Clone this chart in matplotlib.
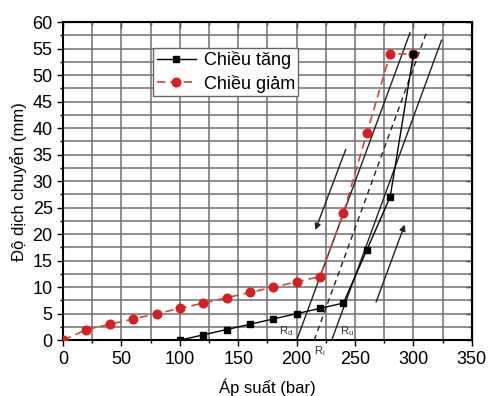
import matplotlib
matplotlib.use('Agg')
import matplotlib.pyplot as plt
from matplotlib.ticker import MultipleLocator

plt.rcParams['font.family'] = ['Liberation Sans', 'DejaVu Sans']
plt.rcParams['mathtext.default'] = 'regular'

# Chiều tăng (tăng áp)
tang_x = [100, 120, 140, 160, 180, 200, 220, 240, 260, 280, 300]
tang_y = [0, 1, 2, 3, 4, 5, 6, 7, 17, 27, 54]

# Chiều giảm (giảm áp)
giam_x = [0, 20, 40, 60, 80, 100, 120, 140, 160, 180, 200, 220, 240, 260, 280, 300]
giam_y = [0, 2, 3, 4, 5, 6, 7, 8, 9, 10, 11, 12, 24, 39, 54, 54]

# Đường Rd, Ri, Ru (điểm đầu, điểm cuối)
rd_line = [(200, 0), (297, 58)]
ri_line = [(215, 0), (311, 58)]
ru_line = [(230, 0), (324, 56.6)]

# Mũi tên chỉ chiều
arrow_down = [(242, 36), (216, 20.8)]
arrow_up = [(268, 7.2), (292.5, 21.8)]

fig = plt.figure(figsize=(4.89, 3.96), dpi=100)
ax = fig.add_axes([0.129, 0.141, 0.836, 0.803])

ax.set_xlim(0, 350)
ax.set_ylim(0, 60)
ax.xaxis.set_major_locator(MultipleLocator(50))
ax.xaxis.set_minor_locator(MultipleLocator(25))
ax.yaxis.set_major_locator(MultipleLocator(5))
ax.yaxis.set_minor_locator(MultipleLocator(2.5))
ax.grid(True, which='both', color='#707070', linewidth=1.1, zorder=0)
ax.set_axisbelow(True)

# các đường tham chiếu
for line, ls in [(rd_line, '-'), (ri_line, (0, (4, 3))), (ru_line, '-')]:
    ax.plot([line[0][0], line[1][0]], [line[0][1], line[1][1]],
            color='#222222', linestyle=ls, linewidth=1.0, zorder=2)

for a in (arrow_down, arrow_up):
    ax.annotate('', xy=a[1], xytext=a[0],
                arrowprops=dict(arrowstyle='-|>', color='#222222', lw=1.0,
                                mutation_scale=9, shrinkA=0, shrinkB=0))

ax.plot(giam_x, giam_y, color='#d0463c', linestyle=(0, (5, 3)), linewidth=1.2,
        marker='o', markersize=6.2, markerfacecolor='#d81e1e',
        markeredgecolor='#d81e1e', label='Chiều giảm', zorder=3)
ax.plot(tang_x, tang_y, color='black', linewidth=1.0,
        marker='s', markersize=4.8, markerfacecolor='black',
        markeredgecolor='black', label='Chiều tăng', zorder=4)

ax.text(191, 1.2, 'R$_d$', fontsize=8, color='#333333', ha='center')
ax.text(220, -2.6, 'R$_i$', fontsize=8, color='#333333', ha='center', clip_on=False)
ax.text(243, 1.2, 'R$_u$', fontsize=8, color='#333333', ha='center')

for s in ax.spines.values():
    s.set_linewidth(1.5)

ax.tick_params(axis='both', which='major', labelsize=13, direction='out', length=4, width=1)
ax.tick_params(axis='both', which='minor', direction='out', length=2, width=1)

# trục trên và phải: vạch hướng vào trong, không nhãn
top = ax.secondary_xaxis('top')
top.xaxis.set_major_locator(MultipleLocator(50))
top.xaxis.set_minor_locator(MultipleLocator(25))
top.tick_params(which='major', direction='in', length=4, width=1, labeltop=False)
top.tick_params(which='minor', direction='in', length=2, width=1)
right = ax.secondary_yaxis('right')
right.yaxis.set_major_locator(MultipleLocator(5))
right.yaxis.set_minor_locator(MultipleLocator(2.5))
right.tick_params(which='major', direction='in', length=4, width=1, labelright=False)
right.tick_params(which='minor', direction='in', length=2, width=1)

ax.set_xlabel('Áp suất (bar)', fontsize=12, labelpad=8)
ax.set_ylabel('Độ dịch chuyển (mm)', fontsize=12, labelpad=4)

handles, labels = ax.get_legend_handles_labels()
leg = ax.legend(handles[::-1], labels[::-1], loc='upper left', bbox_to_anchor=(0.22, 0.92),
                fontsize=13, frameon=True, fancybox=False, edgecolor='#666666',
                framealpha=1, borderpad=0.2, handlelength=2.2, handletextpad=0.4,
                labelspacing=0.3, borderaxespad=0)
leg.get_frame().set_linewidth(1.0)

fig.savefig('out.png', dpi=100)
